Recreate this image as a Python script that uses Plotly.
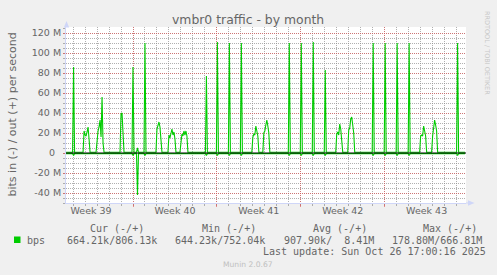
import plotly.graph_objects as go

# ---------------- data (values in Mbit/s) ----------------
out_time = [
    "2025-09-23 10:00",
    "2025-09-23 23:00", "2025-09-24 01:00", "2025-09-24 03:00",
    "2025-09-24 20:00", "2025-09-24 22:00", "2025-09-25 00:00", "2025-09-25 02:00", "2025-09-25 04:00", "2025-09-25 06:00", "2025-09-25 08:00", "2025-09-25 10:00",
    "2025-09-25 22:00", "2025-09-26 00:00", "2025-09-26 02:00", "2025-09-26 04:00", "2025-09-26 06:00", "2025-09-26 08:00", "2025-09-26 10:00", "2025-09-26 12:00", "2025-09-26 14:00",
    "2025-09-27 22:00", "2025-09-28 00:00", "2025-09-28 02:00", "2025-09-28 04:00", "2025-09-28 06:00",
    "2025-09-28 22:00", "2025-09-29 00:00", "2025-09-29 02:00",
    "2025-09-29 07:00", "2025-09-29 09:00", "2025-09-29 11:00",
    "2025-09-29 22:00", "2025-09-30 00:00", "2025-09-30 02:00",
    "2025-09-30 22:00", "2025-10-01 00:00", "2025-10-01 02:00", "2025-10-01 04:00", "2025-10-01 06:00", "2025-10-01 08:00", "2025-10-01 10:00",
    "2025-10-01 22:00", "2025-10-02 00:00", "2025-10-02 02:00", "2025-10-02 04:00", "2025-10-02 06:00", "2025-10-02 08:00", "2025-10-02 10:00", "2025-10-02 12:00", "2025-10-02 14:00",
    "2025-10-02 22:00", "2025-10-03 00:00", "2025-10-03 02:00", "2025-10-03 04:00", "2025-10-03 06:00", "2025-10-03 08:00", "2025-10-03 10:00", "2025-10-03 12:00", "2025-10-03 14:00",
    "2025-10-05 01:00", "2025-10-05 03:00", "2025-10-05 05:00",
    "2025-10-05 23:00", "2025-10-06 01:00", "2025-10-06 03:00",
    "2025-10-06 23:00", "2025-10-07 01:00", "2025-10-07 03:00",
    "2025-10-07 23:00", "2025-10-08 01:00", "2025-10-08 03:00",
    "2025-10-08 22:00", "2025-10-09 00:00", "2025-10-09 02:00", "2025-10-09 04:00", "2025-10-09 06:00", "2025-10-09 08:00", "2025-10-09 10:00", "2025-10-09 12:00",
    "2025-10-09 20:00", "2025-10-09 22:00", "2025-10-10 00:00", "2025-10-10 02:00", "2025-10-10 04:00", "2025-10-10 06:00", "2025-10-10 08:00", "2025-10-10 10:00",
    "2025-10-11 23:00", "2025-10-12 01:00", "2025-10-12 03:00",
    "2025-10-12 23:00", "2025-10-13 01:00", "2025-10-13 03:00",
    "2025-10-13 23:00", "2025-10-14 01:00", "2025-10-14 03:00",
    "2025-10-14 23:00", "2025-10-15 01:00", "2025-10-15 03:00",
    "2025-10-15 22:00", "2025-10-16 00:00", "2025-10-16 02:00", "2025-10-16 04:00", "2025-10-16 06:00", "2025-10-16 08:00", "2025-10-16 10:00", "2025-10-16 12:00",
    "2025-10-16 22:00", "2025-10-17 00:00", "2025-10-17 02:00", "2025-10-17 04:00", "2025-10-17 06:00", "2025-10-17 08:00", "2025-10-17 10:00", "2025-10-17 12:00",
    "2025-10-18 23:00", "2025-10-19 01:00", "2025-10-19 03:00",
    "2025-10-19 23:00", "2025-10-20 01:00", "2025-10-20 03:00",
    "2025-10-20 23:00", "2025-10-21 01:00", "2025-10-21 03:00",
    "2025-10-21 23:00", "2025-10-22 01:00", "2025-10-22 03:00",
    "2025-10-22 22:00", "2025-10-23 00:00", "2025-10-23 02:00", "2025-10-23 04:00", "2025-10-23 06:00", "2025-10-23 08:00", "2025-10-23 10:00", "2025-10-23 12:00",
    "2025-10-23 22:00", "2025-10-24 00:00", "2025-10-24 02:00", "2025-10-24 04:00", "2025-10-24 06:00", "2025-10-24 08:00", "2025-10-24 10:00",
    "2025-10-26 00:00", "2025-10-26 02:00", "2025-10-26 04:00",
    "2025-10-26 17:00",
]
out_mbps = [
    0.8,
    0.8, 86, 0.8,
    0.8, 22, 18, 17, 21, 26, 14, 0.8,
    0.8, 12, 22, 26, 33, 16, 56, 10, 0.8,
    0.8, 39, 40, 20, 0.8,
    0.8, 86, 0.8,
    0.8, 5, 0.8,
    0.8, 110, 0.8,
    0.8, 24, 27, 31, 26, 10, 0.8,
    0.8, 18, 15, 19, 24, 18, 21, 14, 0.8,
    0.8, 15, 19, 17, 22, 18, 22, 17, 0.8,
    0.8, 77, 0.8,
    0.8, 111, 0.8,
    0.8, 110, 0.8,
    0.8, 110, 0.8,
    0.8, 16, 19, 18, 27, 21, 17, 0.8,
    0.8, 20, 22, 28, 33, 27, 20, 0.8,
    0.8, 110, 0.8,
    0.8, 110, 0.8,
    0.8, 111, 0.8,
    0.8, 83, 0.8,
    0.8, 19, 21, 18, 29, 24, 14, 0.8,
    0.8, 23, 25, 34, 36, 27, 20, 0.8,
    0.8, 110, 0.8,
    0.8, 110, 0.8,
    0.8, 110, 0.8,
    0.8, 110, 0.8,
    0.8, 17, 18, 17, 27, 22, 17, 0.8,
    0.8, 17, 24, 33, 28, 22, 0.8,
    0.8, 110, 0.8,
    0.8,
]

in_time = [
    "2025-09-23 10:00",
    "2025-09-23 23:00", "2025-09-24 01:00", "2025-09-24 03:00",
    "2025-09-28 22:00", "2025-09-29 00:00", "2025-09-29 02:00",
    "2025-09-29 07:00", "2025-09-29 09:00", "2025-09-29 11:00",
    "2025-09-29 22:00", "2025-09-30 00:00", "2025-09-30 02:00",
    "2025-10-05 01:00", "2025-10-05 03:00", "2025-10-05 05:00",
    "2025-10-05 23:00", "2025-10-06 01:00", "2025-10-06 03:00",
    "2025-10-06 23:00", "2025-10-07 01:00", "2025-10-07 03:00",
    "2025-10-07 23:00", "2025-10-08 01:00", "2025-10-08 03:00",
    "2025-10-11 23:00", "2025-10-12 01:00", "2025-10-12 03:00",
    "2025-10-12 23:00", "2025-10-13 01:00", "2025-10-13 03:00",
    "2025-10-13 23:00", "2025-10-14 01:00", "2025-10-14 03:00",
    "2025-10-14 23:00", "2025-10-15 01:00", "2025-10-15 03:00",
    "2025-10-18 23:00", "2025-10-19 01:00", "2025-10-19 03:00",
    "2025-10-19 23:00", "2025-10-20 01:00", "2025-10-20 03:00",
    "2025-10-20 23:00", "2025-10-21 01:00", "2025-10-21 03:00",
    "2025-10-21 23:00", "2025-10-22 01:00", "2025-10-22 03:00",
    "2025-10-26 00:00", "2025-10-26 02:00", "2025-10-26 04:00",
    "2025-10-26 17:00",
]
in_mbps = [
    -0.66,
    -0.66, -2.5, -0.66,
    -0.66, -2.5, -0.66,
    -0.66, -42, -0.66,
    -0.66, -2.5, -0.66,
    -0.66, -2.5, -0.66,
    -0.66, -2.5, -0.66,
    -0.66, -2.5, -0.66,
    -0.66, -2.5, -0.66,
    -0.66, -2.5, -0.66,
    -0.66, -2.5, -0.66,
    -0.66, -2.5, -0.66,
    -0.66, -2.5, -0.66,
    -0.66, -2.5, -0.66,
    -0.66, -2.5, -0.66,
    -0.66, -2.5, -0.66,
    -0.66, -2.5, -0.66,
    -0.66, -2.5, -0.66,
    -0.66,
]

x_start, x_end = "2025-09-23 09:50", "2025-10-26 18:50"
week_starts = ["2025-09-22", "2025-09-29", "2025-10-06", "2025-10-13", "2025-10-20"]
week_mid = ["2025-09-25 12:00", "2025-10-02 12:00", "2025-10-09 12:00",
            "2025-10-16 12:00", "2025-10-23 12:00"]
week_labels = ["Week 39", "Week 40", "Week 41", "Week 42", "Week 43"]
y_ticks = [-40, -20, 0, 20, 40, 60, 80, 100, 120]
y_tick_text = ["-40 M", "-20 M", "0\u00a0\u00a0", "20 M", "40 M", "60 M",
               "80 M", "100 M", "120 M"]

title = "vmbr0 traffic - by month"
y_title = "bits in (-) / out (+) per second"
legend_name = "bps"
col_heads = ["Cur (-/+)", "Min (-/+)", "Avg (-/+)", "Max (-/+)"]
col_vals = ["664.21k/806.13k", "644.23k/752.04k", "907.90k/  8.41M", "178.80M/666.81M"]
last_update = "Last update: Sun Oct 26 17:00:16 2025"
footer = "Munin 2.0.67"
watermark = "RRDTOOL / TOBI OETIKER"

# ---------------- styling / layout ----------------
W, H = 497, 275
L, R, T, B = 66, 466, 27, 203
GREEN = "#00CC00"
FONT_C = "#666666"
AXIS_C = "#CFD6F8"
GRID_C = "rgba(143,143,143,0.7)"
MGRID_C = "rgba(222,80,80,0.62)"
SANS = "DejaVu Sans"
MONO = "DejaVu Sans Mono"


def px(x):
    return (x - L) / (R - L)


def py(y):
    return (B - y) / (B - T)


fig = go.Figure()
fig.add_trace(go.Scatter(x=out_time, y=out_mbps, mode="lines",
                         line=dict(color=GREEN, width=1.1), name=legend_name,
                         showlegend=False, hoverinfo="skip"))
fig.add_trace(go.Scatter(x=in_time, y=in_mbps, mode="lines",
                         line=dict(color=GREEN, width=1.1), showlegend=False,
                         hoverinfo="skip"))
# zero rule, on the label axis so it sits on top of the data
fig.add_trace(go.Scatter(x=[x_start, x_end], y=[0, 0], mode="lines", xaxis="x2",
                         line=dict(color="#000000", width=1), showlegend=False,
                         hoverinfo="skip"))

fig.update_layout(
    width=W, height=H,
    margin=dict(l=L, r=W - R, t=T, b=H - B, pad=0),
    paper_bgcolor="#F0F0F0", plot_bgcolor="#FFFFFF",
    font=dict(family=SANS, size=9.5, color=FONT_C),
    showlegend=False,
    xaxis=dict(
        type="date", range=[x_start, x_end],
        tickmode="array", tickvals=week_starts, showticklabels=False,
        showgrid=True, gridcolor=MGRID_C, griddash="1px,1px", gridwidth=1,
        ticks="outside", ticklen=3, tickcolor=MGRID_C,
        minor=dict(dtick=86400000, tick0="2025-09-22", showgrid=True,
                   gridcolor=GRID_C, griddash="1px,1px", gridwidth=1,
                   ticks="outside", ticklen=2, tickcolor=GRID_C),
        showline=True, linecolor=AXIS_C, linewidth=1, zeroline=False,
        fixedrange=True,
    ),
    xaxis2=dict(
        type="date", range=[x_start, x_end], overlaying="x", anchor="y",
        side="bottom", tickmode="array", tickvals=week_mid, ticktext=week_labels,
        showgrid=False, ticks="", showline=False, zeroline=False,
        tickfont=dict(family=SANS, size=9.5, color=FONT_C),
    ),
    yaxis=dict(
        range=[-50, 126], tickmode="array", tickvals=y_ticks, ticktext=y_tick_text,
        showgrid=True, gridcolor=MGRID_C, griddash="1px,1px", gridwidth=1,
        ticks="outside", ticklen=2, tickcolor=MGRID_C,
        minor=dict(dtick=5, tick0=0, showgrid=True, gridcolor=GRID_C,
                   griddash="1px,1px", gridwidth=1, ticks="outside", ticklen=2,
                   tickcolor=GRID_C),
        showline=True, linecolor=AXIS_C, linewidth=1, zeroline=False,
        tickfont=dict(family=SANS, size=9.5, color=FONT_C),
    ),
)

shapes = [
    # y-axis arrow
    dict(type="path", xref="paper", yref="paper",
         path=f"M {px(66.5)} {py(21)} L {px(63.8)} {py(27.5)} L {px(69.2)} {py(27.5)} Z",
         fillcolor=AXIS_C, line=dict(width=0)),
    # x-axis extension + arrow
    dict(type="line", xref="paper", yref="paper", x0=px(466), x1=px(469),
         y0=py(203), y1=py(203), line=dict(color=AXIS_C, width=1)),
    dict(type="path", xref="paper", yref="paper",
         path=f"M {px(474.5)} {py(203)} L {px(468)} {py(200.3)} L {px(468)} {py(205.7)} Z",
         fillcolor=AXIS_C, line=dict(width=0)),
    # legend swatch
    dict(type="rect", xref="paper", yref="paper", x0=px(14), x1=px(20.5),
         y0=py(243), y1=py(236.5), fillcolor=GREEN, line=dict(width=0)),
]
fig.update_layout(shapes=shapes)


def ann(text, x, y, size, family=SANS, color=FONT_C, xanchor="left", angle=0):
    fig.add_annotation(text=text, x=px(x), y=py(y), xref="paper", yref="paper",
                       xanchor=xanchor, yanchor="middle", showarrow=False,
                       textangle=angle, borderpad=0,
                       font=dict(family=family, size=size, color=color))


ann(title, 247.5, 19.5, 12.4, xanchor="center")
ann(y_title, 11.5, 115, 11, xanchor="center", angle=-90)
ann(watermark, 487, 53, 6.5, color="#C8C8C8", xanchor="center", angle=90)

head_x = [89, 201, 312, 422.5]
val_x = [66, 174, 283, 391]
for h, xx in zip(col_heads, head_x):
    ann(h, xx - 0.5, 228, 10, family=MONO)
for v, xx in zip(col_vals, val_x):
    ann(v, xx - 0.5, 240, 10, family=MONO)
ann(legend_name, 26.2, 240, 10, family=MONO)
ann(last_update, 261.5, 251.7, 10, family=MONO)
ann(footer, 248, 264, 7.6, color="#C0C0C0", xanchor="center")

fig.write_html("out.html")
